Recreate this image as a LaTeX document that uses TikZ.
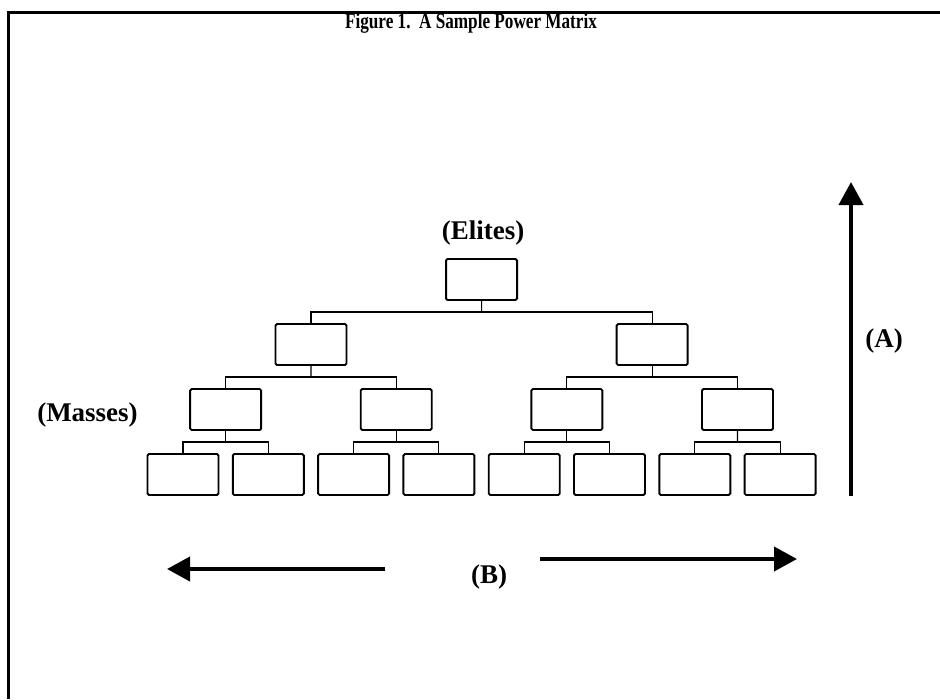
\documentclass[tikz,border=0pt]{standalone}
\usepackage{fontspec}
\setmainfont{Liberation Serif}
\usetikzlibrary{arrows.meta,calc}
\begin{document}
\begin{tikzpicture}[x=1pt,y=-1pt,
  unit/.style={draw, line width=1.9pt, rounded corners=1.5pt, minimum width=71pt,
               minimum height=41pt, inner sep=0pt},
  link/.style={line width=1.1pt},
  lbl/.style={font=\fontsize{27}{27}\selectfont\bfseries, inner sep=0pt},
  bigarrow/.style={line width=4pt, -{Triangle[width=24pt,length=23pt]}}
]
\useasboundingbox (0,0) rectangle (940,699);

% frame (top and left edges)
\draw[line width=3pt, line join=miter] (8,699) -- (8,12) -- (940,12);

% title
\node[font=\fontsize{22}{22}\selectfont\bfseries, inner sep=0pt] (title) at (471,23)
  {\scalebox{0.78}[1]{Figure 1.\ \ A Sample Power Matrix}};

% hierarchy boxes
\node[unit] (r)   at (481.55,279.5) {};
\node[unit] (a)   at (310.95,344.5) {};
\node[unit] (b)   at (652.15,344.5) {};
\node[unit] (a1)  at (225.65,409.5) {};
\node[unit] (a2)  at (396.25,409.5) {};
\node[unit] (b1)  at (566.85,409.5) {};
\node[unit] (b2)  at (737.45,409.5) {};
\node[unit] (a11) at (183.0,474.5) {};
\node[unit] (a12) at (268.3,474.5) {};
\node[unit] (a21) at (353.6,474.5) {};
\node[unit] (a22) at (438.9,474.5) {};
\node[unit] (b11) at (524.2,474.5) {};
\node[unit] (b12) at (609.5,474.5) {};
\node[unit] (b21) at (694.8,474.5) {};
\node[unit] (b22) at (780.1,474.5) {};

% elbow connectors from each parent to its two children
\foreach \p/\c/\d in {r/a/b, a/a1/a2, b/b1/b2, a1/a11/a12, a2/a21/a22, b1/b11/b12, b2/b21/b22}{
  \coordinate (m\p) at ($(\p.south)!0.5!(\p.south |- \c.north)$);
  \draw[link] (\p.south) -- (m\p);
  \draw[link] (\c.north) |- (m\p) -| (\d.north);
}

% labels
\node[lbl] (elites) at (483,233) {(Elites)};
\node[lbl] (masses) at (87.5,415) {(Masses)};

% vertical axis (A)
\coordinate (abot) at (851,496);
\coordinate (atop) at (851,182);
\draw[bigarrow] (abot) -- (atop);
\node[lbl] (alab) at (884,341) {(A)};

% horizontal axis (B)
\coordinate (lstart) at (385,569);
\coordinate (lend) at (167,569);
\coordinate (rstart) at (540,559);
\coordinate (rend) at (797,559);
\draw[bigarrow] (lstart) -- (lend);
\draw[bigarrow] (rstart) -- (rend);
\node[lbl] (blab) at (489,577) {(B)};
\end{tikzpicture}
\end{document}
